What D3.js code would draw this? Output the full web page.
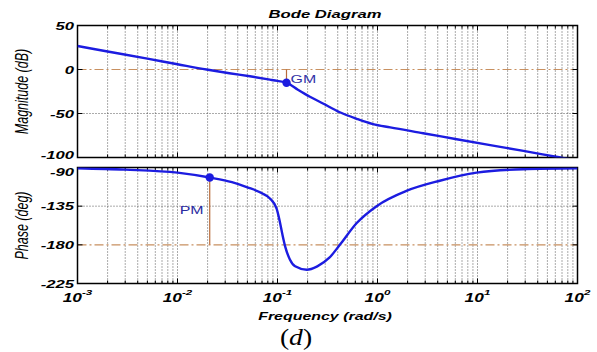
<!DOCTYPE html>
<html><head><meta charset="utf-8">
<script src="https://cdn.jsdelivr.net/npm/d3@7"></script>
<style>body{margin:0;background:#fff}svg{display:block}</style>
</head><body>
<svg id="c" width="597" height="352"></svg>
<script>
const title = "Bode Diagram";
const xLabel = "Frequency  (rad/s)";
const magLabel = "Magnitude (dB)";
const phaseLabel = "Phase (deg)";
const caption = "d";
const magTicks = [50, 0, -50, -100];
const phaseTicks = [-90, -135, -180, -225];
const xTickExp = [-3, -2, -1, 0, 1, 2];

const magFreq = [0.001, 0.002, 0.005, 0.01, 0.0195, 0.033, 0.053, 0.084, 0.1, 0.123, 0.16, 0.211, 0.285, 0.42, 0.62, 0.9, 1.34, 2.86, 6.2, 13.4, 28.8, 67.6, 100];
const magDb   = [26.7, 20.5, 12.3, 6, 0, -4.2, -7.7, -11.5, -13, -15, -23, -31, -38.6, -48.6, -56, -62, -65.8, -72.4, -79.2, -85.9, -92.5, -100, -103.4];

const phaseFreq = [0.001, 0.003, 0.01, 0.021, 0.035, 0.05, 0.07, 0.084, 0.098, 0.105, 0.112, 0.12, 0.133, 0.15, 0.196, 0.25, 0.33, 0.42, 0.62, 0.98, 1.97, 4.2, 9.8, 28.5, 100];
const phaseDeg  = [-90.8, -92.5, -96, -101.7, -107, -113, -120, -126, -138, -152, -168, -183, -197, -205, -209, -205, -195, -180, -154.6, -135, -117, -105.4, -96, -92, -91];

const gm = {freq: 0.123, db: -15, label: "GM"};
const pm = {freq: 0.021, deg: -101.7, label: "PM"};

const svg = d3.select("#c");
const SX = 1.45;
const x = d3.scaleLog().domain([1e-3, 1e2]).range([77.5, 577.5]);
const yM = d3.scaleLinear().domain([-100, 50]).range([157.5, 25.5]);
const yP = d3.scaleLinear().domain([-225, -90]).range([283.5, 167.5]);

const blue = "#1c1ce0", ref = "#c89060", mk = "#b86a3a";
const fontB = "'Liberation Sans', Arial, sans-serif";

function stext(g, tx, ty, str, opts) {
  const t = g.append("text")
    .attr("transform", `translate(${tx},${ty}) scale(${SX},1)` + (opts.rot ? " rotate(-90)" : ""))
    .attr("text-anchor", opts.anchor || "middle")
    .attr("font-family", opts.family || fontB)
    .attr("font-size", opts.size || 11)
    .attr("font-weight", opts.weight || "bold")
    .attr("font-style", opts.style || "italic")
    .attr("fill", opts.fill || "#000")
    .text(str);
  return t;
}

function panel(y, ticks, refVal, id, labelShift) {
  const g = svg.append("g");
  const [y0, y1] = y.range(); // bottom, top
  g.append("clipPath").attr("id", id).append("rect")
    .attr("x", x.range()[0]).attr("y", y1).attr("width", x.range()[1] - x.range()[0]).attr("height", y0 - y1);
  g.selectAll(".vg").data(x.ticks()).join("line")
    .attr("x1", d => x(d)).attr("x2", d => x(d)).attr("y1", y1).attr("y2", y0)
    .attr("stroke", "#444").attr("stroke-width", 0.9).attr("stroke-dasharray", "1,2");
  g.selectAll(".hg").data(ticks.filter(t => t !== refVal)).join("line")
    .attr("x1", x.range()[0]).attr("x2", x.range()[1]).attr("y1", d => y(d)).attr("y2", d => y(d))
    .attr("stroke", "#444").attr("stroke-width", 0.9).attr("stroke-dasharray", "1,2");
  g.append("line").attr("x1", x.range()[0]).attr("x2", x.range()[1])
    .attr("y1", y(refVal)).attr("y2", y(refVal))
    .attr("stroke", ref).attr("stroke-width", 1.2).attr("stroke-dasharray", "9,3,2,3");
  const xt = x.ticks();
  const isMajor = d => Math.abs(Math.log10(d) - Math.round(Math.log10(d))) < 1e-6;
  g.selectAll(".tb").data(xt).join("line")
    .attr("x1", d => x(d)).attr("x2", d => x(d)).attr("y1", y0).attr("y2", d => y0 - (isMajor(d) ? 5 : 3))
    .attr("stroke", "#000").attr("stroke-width", 1);
  g.selectAll(".tt").data(xt).join("line")
    .attr("x1", d => x(d)).attr("x2", d => x(d)).attr("y1", y1).attr("y2", d => y1 + (isMajor(d) ? 5 : 3))
    .attr("stroke", "#000").attr("stroke-width", 1);
  g.selectAll(".yl").data(ticks).join("line")
    .attr("x1", x.range()[0]).attr("x2", x.range()[0] + 5).attr("y1", d => y(d)).attr("y2", d => y(d))
    .attr("stroke", "#000");
  g.selectAll(".yr").data(ticks).join("line")
    .attr("x1", x.range()[1]).attr("x2", x.range()[1] - 5).attr("y1", d => y(d)).attr("y2", d => y(d))
    .attr("stroke", "#000");
  g.append("rect").attr("x", x.range()[0]).attr("y", y1)
    .attr("width", x.range()[1] - x.range()[0]).attr("height", y0 - y1)
    .attr("fill", "none").attr("stroke", "#000").attr("stroke-width", 1.5);
  ticks.forEach((t, i) => stext(g, 74, y(t) + labelShift(i, ticks.length), String(t), {anchor: "end", size: 11.5}));
  return g;
}

const gM = panel(yM, magTicks, 0, "clipM", (i, n) => i === n - 1 ? 1 : 4);
const gP = panel(yP, phaseTicks, -180, "clipP", (i, n) => i === 0 ? 8.5 : 4);

gM.append("line").attr("x1", x(gm.freq)).attr("x2", x(gm.freq)).attr("y1", yM(0)).attr("y2", yM(gm.db))
  .attr("stroke", mk).attr("stroke-width", 1.2);
gP.append("line").attr("x1", x(pm.freq)).attr("x2", x(pm.freq)).attr("y1", yP(pm.deg)).attr("y2", yP(-180))
  .attr("stroke", mk).attr("stroke-width", 1.2);

const magData = magFreq.map((f, i) => [f, magDb[i]]);
const phData = phaseFreq.map((f, i) => [f, phaseDeg[i]]);
gM.append("path").attr("clip-path", "url(#clipM)")
  .attr("d", d3.line().x(d => x(d[0])).y(d => yM(d[1])).curve(d3.curveMonotoneX)(magData))
  .attr("fill", "none").attr("stroke", blue).attr("stroke-width", 2.4);
gP.append("path").attr("clip-path", "url(#clipP)")
  .attr("d", d3.line().x(d => x(d[0])).y(d => yP(d[1])).curve(d3.curveMonotoneX)(phData))
  .attr("fill", "none").attr("stroke", blue).attr("stroke-width", 2.4);

gM.append("circle").attr("cx", x(gm.freq)).attr("cy", yM(gm.db)).attr("r", 4.2).attr("fill", blue);
gP.append("circle").attr("cx", x(pm.freq)).attr("cy", yP(pm.deg)).attr("r", 4.2).attr("fill", blue);
stext(gM, x(gm.freq) + 4, yM(0) + 13, gm.label, {anchor: "start", weight: "normal", style: "normal", size: 11, fill: "#3434a8"});
stext(gP, x(pm.freq) - 30, yP(-135) + 8, pm.label, {anchor: "start", weight: "normal", style: "normal", size: 11, fill: "#2a2aa0"});

xTickExp.forEach(e => {
  const t = svg.append("text")
    .attr("transform", `translate(${x(Math.pow(10, e))},301.5) scale(${SX},1)`)
    .attr("text-anchor", "middle")
    .attr("font-family", fontB).attr("font-weight", "bold").attr("font-style", "italic")
    .attr("font-size", 12).attr("fill", "#000");
  t.append("tspan").text("10");
  t.append("tspan").attr("dy", -6.5).attr("font-size", 8).text(String(e));
});

stext(svg, 325, 18, title, {size: 11.5});
stext(svg, 325, 320, xLabel, {size: 11});
stext(svg, 28, yM(-25), magLabel, {rot: true, weight: "normal", size: 12.5});
stext(svg, 28, (yP.range()[0] + yP.range()[1]) / 2, phaseLabel, {rot: true, weight: "normal", size: 12.5});

const cap = svg.append("text")
  .attr("transform", `translate(296,345) scale(1.2,1)`)
  .attr("text-anchor", "middle")
  .attr("font-family", "'Liberation Serif', 'Times New Roman', serif")
  .attr("font-size", 23).attr("fill", "#000");
cap.append("tspan").text("(");
cap.append("tspan").attr("font-style", "italic").text(caption);
cap.append("tspan").text(")");
</script>
</body></html>
